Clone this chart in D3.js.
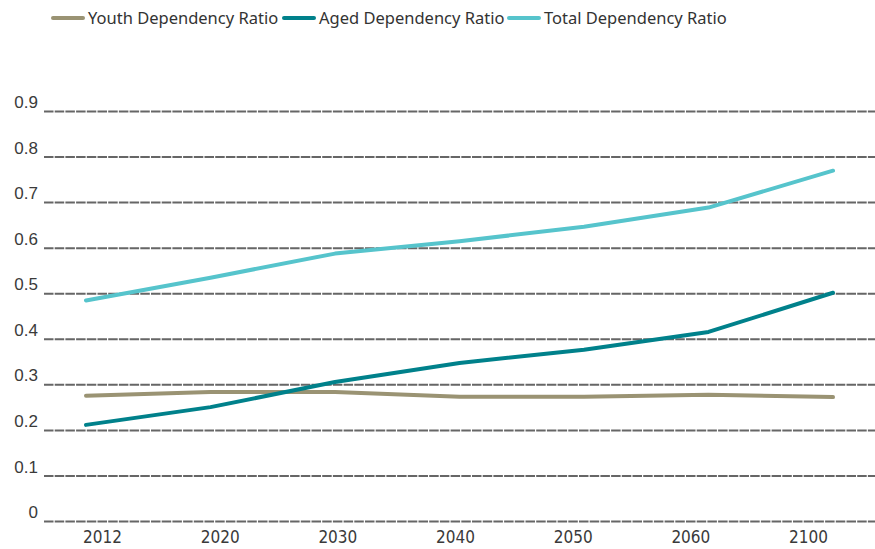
<!DOCTYPE html>
<html>
<head>
<meta charset="utf-8">
<script src="https://cdn.jsdelivr.net/npm/d3@7"></script>
<style>
  body { margin: 0; background: #fff; }
</style>
</head>
<body>
<div id="chart"></div>
<script>
// data
var years = ["2012", "2020", "2030", "2040", "2050", "2060", "2100"];
var youth = [0.275, 0.283, 0.283, 0.273, 0.273, 0.277, 0.272];
var aged  = [0.211, 0.250, 0.305, 0.347, 0.376, 0.415, 0.501];
var total = [0.484, 0.534, 0.587, 0.614, 0.646, 0.688, 0.769];
var yTicks = [0, 0.1, 0.2, 0.3, 0.4, 0.5, 0.6, 0.7, 0.8, 0.9];

var series = [
  {name: "Youth Dependency Ratio", values: youth, color: "#9a9373"},
  {name: "Aged Dependency Ratio", values: aged, color: "#00818b"},
  {name: "Total Dependency Ratio", values: total, color: "#56c4cc"}
];

var width = 875, height = 549;

var svg = d3.select("#chart")
  .append("svg")
    .attr("width", width)
    .attr("height", height);

// scales
var y = d3.scaleLinear()
  .domain([0, 0.9])
  .range([521, 111]);

var xLine = d3.scalePoint()
  .domain(years)
  .range([86, 833]);

var xLabel = d3.scalePoint()
  .domain(years)
  .range([102, 808]);

// gridlines + y labels
var yAxis = svg.append("g")
  .attr("transform", "translate(44,0)")
  .call(d3.axisRight(y).tickValues(yTicks).tickSize(width - 44).tickFormat(function(d) { return d === 0 ? "0" : d3.format(".1f")(d); }))
  .attr("font-family", "'Liberation Sans', Arial, sans-serif")
  .attr("font-size", 17);
yAxis.select(".domain").remove();
yAxis.selectAll(".tick line")
  .attr("stroke", "#666")
  .attr("stroke-width", 2)
  .attr("stroke-dasharray", "9.5,1.2");
yAxis.selectAll(".tick text")
  .attr("x", -6)
  .attr("dy", "-0.2em")
  .attr("text-anchor", "end")
  .attr("fill", "#3a3a3a");

// x labels
var xAxis = svg.append("g")
  .attr("transform", "translate(0,530)")
  .call(d3.axisBottom(xLabel).tickSize(0).tickPadding(0))
  .attr("font-family", "'Liberation Sans Narrow', 'DejaVu Sans Condensed', sans-serif")
  .attr("font-size", 17);
xAxis.select(".domain").remove();
xAxis.selectAll(".tick text")
  .attr("fill", "#3a3a3a")
  .attr("dy", "0.75em");

// lines
var line = d3.line()
  .x(function(d, i) { return xLine(years[i]); })
  .y(function(d) { return y(d); });

svg.selectAll(".series")
  .data(series)
  .enter()
  .append("path")
    .attr("class", "series")
    .attr("d", function(d) { return line(d.values); })
    .attr("fill", "none")
    .attr("stroke", function(d) { return d.color; })
    .attr("stroke-width", 4)
    .attr("stroke-linecap", "round")
    .attr("stroke-linejoin", "round");

// legend
var legendX = [52, 283, 508];
var legend = svg.selectAll(".legend")
  .data(series)
  .enter()
  .append("g")
    .attr("class", "legend")
    .attr("transform", function(d, i) { return "translate(" + legendX[i] + ",18)"; });

legend.append("line")
  .attr("x1", 1).attr("x2", 31)
  .attr("stroke", function(d) { return d.color; })
  .attr("stroke-width", 4)
  .attr("stroke-linecap", "round");

legend.append("text")
  .attr("x", 36)
  .attr("dy", "0.35em")
  .attr("fill", "#333")
  .style("font-family", "'Noto Sans', sans-serif")
  .style("font-size", "16.5px")
  .text(function(d) { return d.name; });
</script>
</body>
</html>
